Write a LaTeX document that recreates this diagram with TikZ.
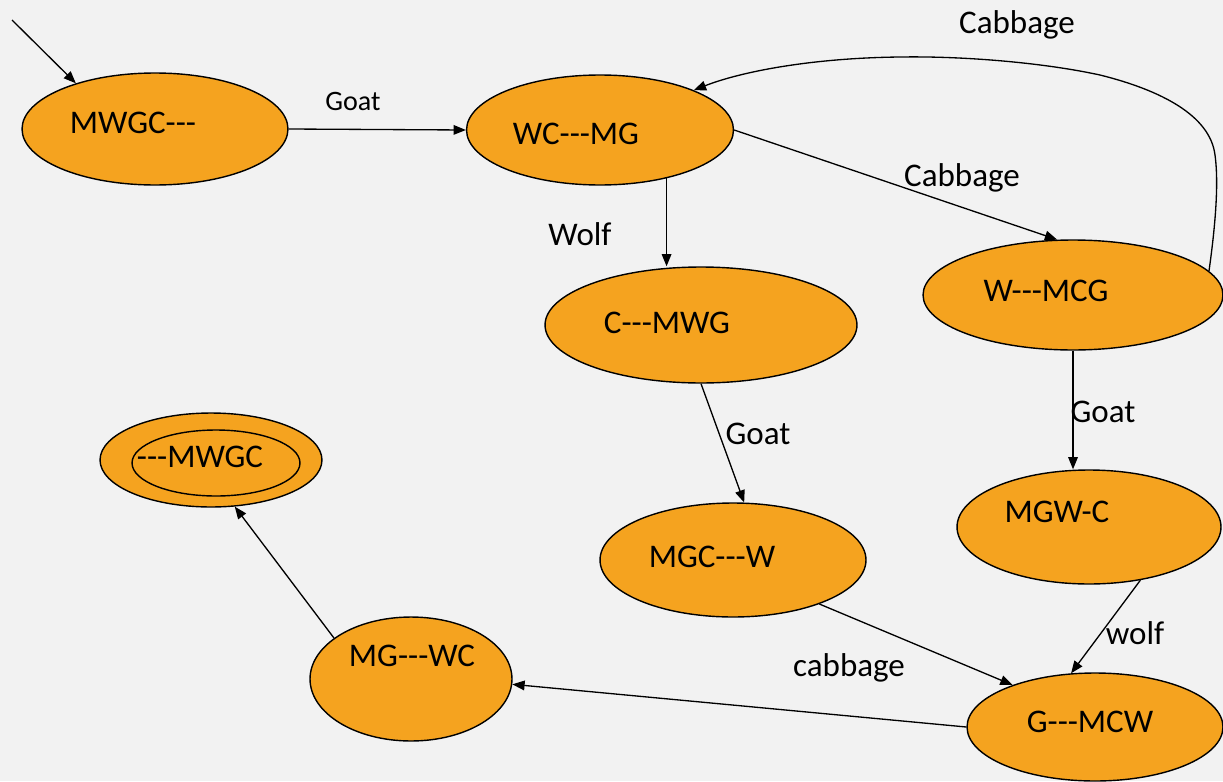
\documentclass[tikz,border=0pt]{standalone}
\usepackage{fontspec}
\setmainfont{Carlito}[Ligatures=TeXOff]
\usetikzlibrary{arrows.meta,shapes.geometric}

\definecolor{bggray}{HTML}{F2F2F2}
\definecolor{stateorange}{HTML}{F5A31F}

\begin{document}
\begin{tikzpicture}[x=0.02cm,y=-0.02cm,
    state/.style={ellipse,draw=black,line width=0.8pt,fill=stateorange,inner sep=0pt},
    txt/.style={font=\fontsize{18.8}{22}\selectfont,inner sep=0pt},
    lbl/.style={font=\fontsize{18.8}{22}\selectfont,inner sep=0pt},
    edge/.style={line width=0.75pt,-{Triangle[length=7pt,width=5.5pt]}}]
    % Page
    \useasboundingbox (0,0) rectangle (1223,781);
    \fill[bggray] (0,0) rectangle (1223,781);

    % States
    \node[state,minimum width=5.32cm,minimum height=2.24cm] (s1) at (155,129) {};
    \node[state,minimum width=5.34cm,minimum height=2.20cm] (s2) at (600,130) {};
    \node[state,minimum width=6.24cm,minimum height=2.32cm] (s3) at (701,325) {};
    \node[state,minimum width=6.00cm,minimum height=2.20cm] (s4) at (1073,295) {};
    \node[state,minimum width=5.28cm,minimum height=2.28cm] (s5) at (1089,527) {};
    \node[state,minimum width=5.32cm,minimum height=2.28cm] (s6) at (733,560) {};
    \node[state,minimum width=5.12cm,minimum height=2.16cm] (s7) at (1095,727) {};
    \node[state,minimum width=4.04cm,minimum height=2.48cm] (s8) at (411,679) {};
    \node[state,minimum width=4.44cm,minimum height=1.88cm] (s9) at (211,460) {};
    \node[state,minimum width=3.36cm,minimum height=1.32cm] (s9in) at (216,463) {};

    % State names
    \node[txt] (t1) at (133,123) {MWGC---};
    \node[txt] (t2) at (576,134) {WC---MG};
    \node[txt] (t3) at (667,323) {C---MWG};
    \node[txt] (t4) at (1046,291) {W---MCG};
    \node[txt] (t5) at (1057,512) {MGW-C};
    \node[txt] (t6) at (712,557) {MGC---W};
    \node[txt] (t7) at (1090,722) {G---MCW};
    \node[txt] (t8) at (412,656) {MG---WC};
    \node[txt] (t9) at (200,457) {---MWGC};

    % Transitions
    \coordinate (start) at (12,20);
    \draw[edge] (start) -- (s1.150);
    \draw[edge] (s1.east) -- (s2.west);
    \draw[edge] (s2.-36) -- (s2.-36 |- s3.north);
    \draw[edge] (s2.east) -- (s4.106);
    \draw[edge] (s4.10) .. controls (1219,200) and (1217,170) .. (1215,155)
        .. controls (1210,115) and (1160,90) .. (1100,75)
        .. controls (1040,62) and (960,56) .. (900,57)
        .. controls (810,58) and (740,72) .. (s2.23);
    \draw[edge] (s3.south) -- (s6.79);
    \draw[edge] (s4.south) -- (s4.south |- s5.north);
    \draw[edge] (s5.-46) -- (s7.114);
    \draw[edge] (s6.-27) -- (s7.153);
    \draw[edge] (s7.west) -- (s8.-3);
    \draw[edge] (s8.152) -- (s9.-63);

    % Labels
    \node[lbl,font=\fontsize{16}{19}\selectfont] (l1) at (353,101) {Goat};
    \node[lbl] (l2) at (580,234) {Wolf};
    \node[lbl] (l3) at (962,178) {Cabbage};
    \node[lbl] (l4) at (1017,25) {Cabbage};
    \node[lbl] (l5) at (758,434) {Goat};
    \node[lbl] (l6) at (1103,412) {Goat};
    \node[lbl] (l7) at (1135,633) {wolf};
    \node[lbl] (l8) at (849,668) {cabbage};
\end{tikzpicture}
\end{document}
